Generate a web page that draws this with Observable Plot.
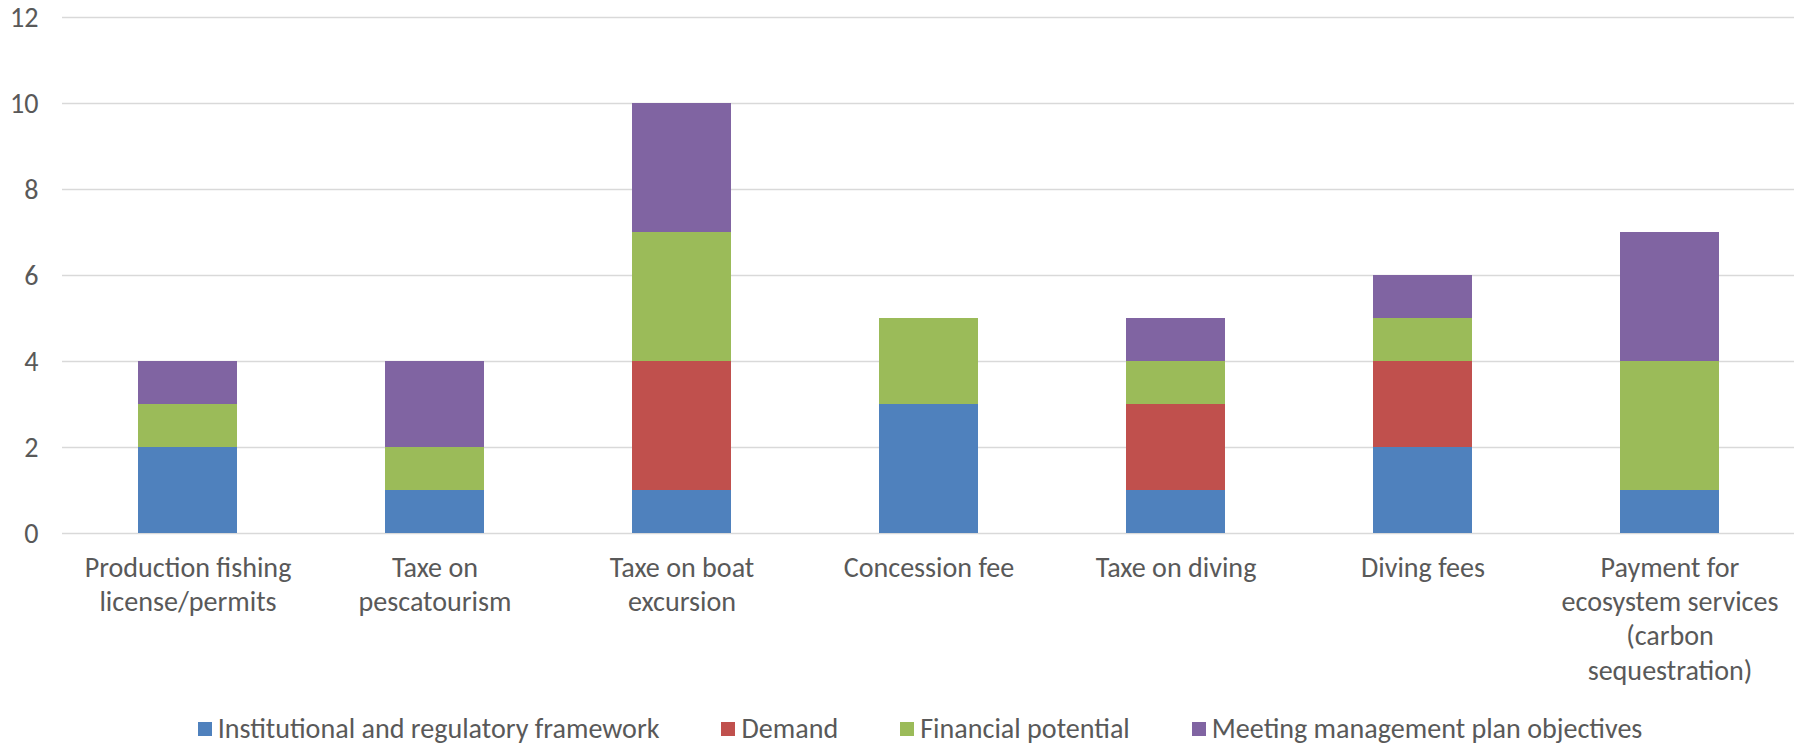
<!DOCTYPE html>
<html><head><meta charset="utf-8">
<script src="https://cdn.jsdelivr.net/npm/d3@7"></script>
<script src="https://cdn.jsdelivr.net/npm/@observablehq/plot@0.6"></script>
<style>
html,body{margin:0;padding:0;background:#fff;}
#wrap{width:1794px;}
#legend{display:flex;justify-content:center;align-items:center;height:37px;color:#595959;margin-left:46px;}
.item{display:flex;align-items:center;margin:0 31px;}
.sw{width:14px;height:14px;margin-right:6px;}
</style></head><body><div id="wrap"><div id="chart"></div><div id="legend"></div></div>
<script>
const categories = [
  "Production fishing\nlicense/permits",
  "Taxe on\npescatourism",
  "Taxe on boat\nexcursion",
  "Concession fee",
  "Taxe on diving",
  "Diving fees",
  "Payment for\necosystem services\n(carbon\nsequestration)"
];
const series = ["Institutional and regulatory framework", "Demand", "Financial potential", "Meeting management plan objectives"];
const institutional = [2, 1, 1, 3, 1, 2, 1];
const demand        = [0, 0, 3, 0, 2, 2, 0];
const financial     = [1, 1, 3, 2, 1, 1, 3];
const meeting       = [1, 2, 3, 0, 1, 1, 3];
const colors = ["#4F81BD", "#C0504D", "#9BBB59", "#8064A2"];
const yTicks = [0, 2, 4, 6, 8, 10, 12];

const FONT = "Carlito, Calibri, Lato, sans-serif";
// fit font size so that category label widths match the reference
const cv = document.createElement("canvas").getContext("2d");
cv.font = `100px ${FONT}`;
const w100 = cv.measureText("Production fishing").width;
const FS = Math.round(207 / w100 * 100 * 10) / 10;

const valuesBySeries = [institutional, demand, financial, meeting];
const rows = [];
series.forEach((s, si) => {
  categories.forEach((c, ci) => {
    rows.push({category: c, series: s, value: valuesBySeries[si][ci]});
  });
});

const chart = Plot.plot({
  width: 1794,
  height: 710,
  marginTop: 17,
  marginBottom: 177,
  marginLeft: 62,
  marginRight: 0,
  style: {fontFamily: FONT, fontSize: FS + "px", color: "#595959", background: "#fff"},
  x: {type: "band", domain: categories, paddingInner: 0.6, paddingOuter: 0.3, label: null},
  y: {domain: [0, 12], ticks: yTicks, label: null},
  color: {domain: series, range: colors},
  marks: [
    Plot.gridY(yTicks, {stroke: "#d9d9d9", strokeOpacity: 1, strokeWidth: 1.5}),
    Plot.barY(rows, {x: "category", y: "value", fill: "series", order: series}),
    Plot.axisY(yTicks, {tickSize: 0, tickPadding: 24, fontSize: FS, fill: "#595959", label: null}),
    Plot.axisX({tickSize: 0, tickPadding: 19, fontSize: FS, lineHeight: 1.22, fill: "#595959", label: null})
  ]
});
document.getElementById("chart").appendChild(chart);

const lg = document.getElementById("legend");
lg.style.fontFamily = FONT;
lg.style.fontSize = FS + "px";
series.forEach((s, i) => {
  const it = document.createElement("div");
  it.className = "item";
  const sw = document.createElement("div");
  sw.className = "sw";
  sw.style.background = colors[i];
  const t = document.createElement("span");
  t.textContent = s;
  it.appendChild(sw); it.appendChild(t);
  lg.appendChild(it);
});
</script></body></html>
